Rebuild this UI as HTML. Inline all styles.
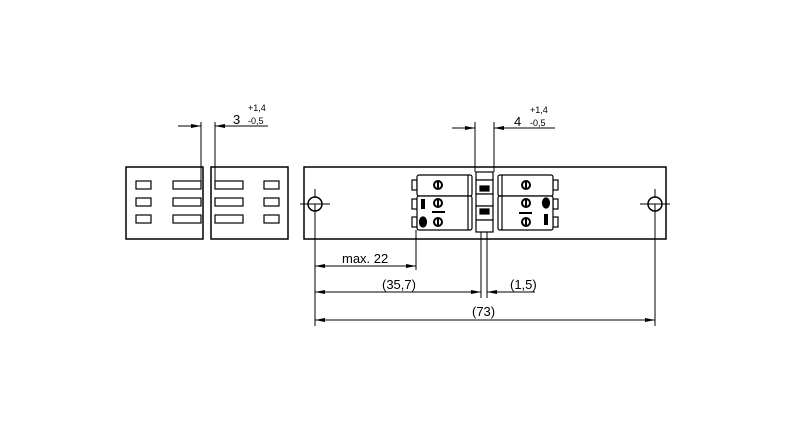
<!DOCTYPE html>
<html><head><style>body{margin:0;background:#fff}svg{display:block}</style></head><body>
<svg width="800" height="429" viewBox="0 0 800 429" xmlns="http://www.w3.org/2000/svg" font-family="Liberation Sans, sans-serif">
<defs>
<marker id="a" viewBox="0 0 10 4" refX="10" refY="2" markerWidth="12" markerHeight="4" markerUnits="userSpaceOnUse" orient="auto-start-reverse"><path d="M0,0L10,2L0,4z" fill="#000"/></marker>
</defs>
<g fill="none" stroke="#000" stroke-width="1.5">
<rect x="126" y="167" width="77" height="72"/>
<rect x="211" y="167" width="77" height="72"/>
<g stroke-width="1.2">
<rect x="136" y="181" width="15" height="8"/><rect x="136" y="198" width="15" height="8"/><rect x="136" y="215" width="15" height="8"/>
<rect x="173" y="181" width="28" height="8"/><rect x="173" y="198" width="28" height="8"/><rect x="173" y="215" width="28" height="8"/>
<rect x="215" y="181" width="28" height="8"/><rect x="215" y="198" width="28" height="8"/><rect x="215" y="215" width="28" height="8"/>
<rect x="264" y="181" width="15" height="8"/><rect x="264" y="198" width="15" height="8"/><rect x="264" y="215" width="15" height="8"/>
</g>
<rect x="304" y="167" width="362" height="72"/>
<circle cx="315" cy="204" r="7"/><circle cx="655" cy="204" r="7"/>
</g>
<g stroke="#000" stroke-width="1" fill="none">
<line x1="300" y1="204" x2="330" y2="204"/><line x1="315" y1="189" x2="315" y2="198"/>
<line x1="640" y1="204" x2="670" y2="204"/><line x1="655" y1="189" x2="655" y2="198"/>
<line x1="315" y1="204" x2="315" y2="326"/><line x1="655" y1="204" x2="655" y2="326"/>
<line x1="201" y1="122" x2="201" y2="183"/><line x1="215" y1="122" x2="215" y2="183"/>
<line x1="178" y1="126" x2="201" y2="126" marker-end="url(#a)"/>
<line x1="268" y1="126" x2="215" y2="126" marker-end="url(#a)"/>
<line x1="475" y1="122" x2="475" y2="172"/><line x1="494" y1="122" x2="494" y2="172"/>
<line x1="452" y1="128" x2="475" y2="128" marker-end="url(#a)"/>
<line x1="555" y1="128" x2="494" y2="128" marker-end="url(#a)"/>
<line x1="416" y1="230" x2="416" y2="270"/>
<line x1="481" y1="232" x2="481" y2="298"/><line x1="487" y1="232" x2="487" y2="298"/>
<line x1="315" y1="266" x2="416" y2="266" marker-start="url(#a)" marker-end="url(#a)"/>
<line x1="315" y1="292" x2="481" y2="292" marker-start="url(#a)" marker-end="url(#a)"/>
<line x1="535" y1="292" x2="487" y2="292" marker-end="url(#a)"/>
<line x1="315" y1="320" x2="655" y2="320" marker-start="url(#a)" marker-end="url(#a)"/>
</g>
<g stroke="#000" stroke-width="1.2" fill="#fff">
<rect x="412" y="180" width="5" height="10"/><rect x="412" y="199" width="5" height="10"/><rect x="412" y="217" width="5" height="10"/>
<rect x="553" y="180" width="5" height="10"/><rect x="553" y="199" width="5" height="10"/><rect x="553" y="217" width="5" height="10"/>
<rect x="417" y="175" width="55" height="21" rx="2"/><rect x="417" y="196" width="55" height="34" rx="2"/>
<rect x="498" y="175" width="55" height="21" rx="2"/><rect x="498" y="196" width="55" height="34" rx="2"/>
<line x1="468" y1="175" x2="468" y2="230"/><line x1="502" y1="175" x2="502" y2="230"/>
<rect x="476" y="172" width="17" height="8"/><rect x="476" y="180" width="17" height="14"/>
<rect x="476" y="194" width="17" height="12"/><rect x="476" y="206" width="17" height="14"/>
<rect x="476" y="220" width="17" height="12"/>
<rect x="480" y="186" width="9" height="5" fill="#000"/><rect x="480" y="209" width="9" height="5" fill="#000"/>
<g stroke-width="2"><circle cx="438" cy="185" r="4"/><circle cx="438" cy="203" r="4"/><circle cx="438" cy="222" r="4"/>
<circle cx="526" cy="185" r="4"/><circle cx="526" cy="203" r="4"/><circle cx="526" cy="222" r="4"/></g>
<g stroke-width="2"><line x1="438" y1="181" x2="438" y2="189"/><line x1="438" y1="199" x2="438" y2="207"/><line x1="438" y1="218" x2="438" y2="226"/>
<line x1="526" y1="181" x2="526" y2="189"/><line x1="526" y1="199" x2="526" y2="207"/><line x1="526" y1="218" x2="526" y2="226"/></g>
<ellipse cx="423" cy="222" rx="3.5" ry="5" fill="#000"/><ellipse cx="546" cy="203" rx="3.5" ry="5" fill="#000"/>
<line x1="432" y1="212" x2="445" y2="212" stroke-width="2"/><line x1="519" y1="213" x2="532" y2="213" stroke-width="2"/>
<rect x="421" y="199" width="4" height="10" fill="#000" stroke="none"/><rect x="544" y="214" width="4" height="11" fill="#000" stroke="none"/>
</g>
<g font-size="13" fill="#000">
<text x="233" y="124">3</text><text x="514" y="126">4</text>
<text x="342" y="263">max. 22</text>
<text x="382" y="289">(35,7)</text>
<text x="510" y="289">(1,5)</text>
<text x="472" y="316">(73)</text>
</g>
<g font-size="9" fill="#000">
<text x="248" y="111">+1,4</text><text x="248" y="124">-0,5</text>
<text x="530" y="113">+1,4</text><text x="530" y="126">-0,5</text>
</g>
</svg>
</body></html>
